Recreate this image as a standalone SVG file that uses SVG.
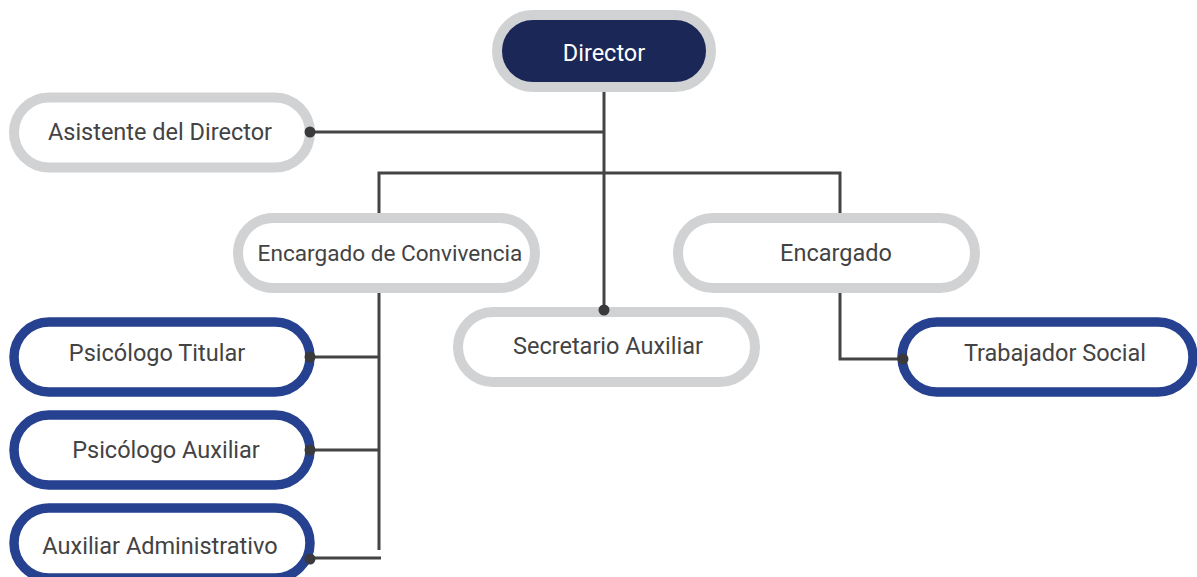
<svg xmlns="http://www.w3.org/2000/svg" width="1197" height="577" viewBox="0 0 1197 577">
<style>
.pg{fill:#ffffff;stroke:#d1d2d4;stroke-width:10}
.pb{fill:#ffffff;stroke:#26418f;stroke-width:9.5}
.pd{fill:#1b2857;stroke:#d1d2d4;stroke-width:10}
.t{font-family:Roboto,"Liberation Sans",sans-serif;font-size:23.5px;fill:#434343;text-anchor:middle;dominant-baseline:central}
.tw{fill:#ffffff}
.ln{fill:none;stroke:#444444;stroke-width:3}
.dot{fill:#3a3a3c}
</style>
<rect width="1197" height="577" fill="#ffffff"/>
<g id="connectors">
<path class="ln" d="M604 92 V310"/>
<path class="ln" d="M310 132 H604"/>
<path class="ln" d="M379 213 V173 H840 V213"/>
<path class="ln" d="M379 292 V550"/>
<path class="ln" d="M310 357 H379"/>
<path class="ln" d="M310 450 H379"/>
<path class="ln" d="M310 558 H381"/>
<path class="ln" d="M840 292 V359 H903"/>
</g>
<g id="director">
<rect class="pd" x="497" y="15" width="214" height="72" rx="36"/>
<text class="t tw" x="604" y="53">Director</text>
</g>
<g id="asistente">
<rect class="pg" x="14" y="97.5" width="296" height="70" rx="35"/>
<text class="t" x="160" y="132">Asistente del Director</text>
<circle class="dot" cx="310" cy="132" r="5.5"/>
</g>
<g id="encargado-convivencia">
<rect class="pg" x="238" y="218" width="297" height="70" rx="35"/>
<text class="t" x="390" y="253" style="font-size:22.6px">Encargado de Convivencia</text>
</g>
<g id="encargado">
<rect class="pg" x="678" y="218" width="297" height="70" rx="35"/>
<text class="t" x="836" y="253">Encargado</text>
</g>
<g id="secretario">
<rect class="pg" x="458" y="312" width="297" height="70" rx="35"/>
<text class="t" x="608" y="346">Secretario Auxiliar</text>
<circle class="dot" cx="604" cy="310" r="5.5"/>
</g>
<g id="psicologo-titular">
<rect class="pb" x="14" y="322" width="296" height="70" rx="35"/>
<text class="t" x="157" y="353">Psicólogo Titular</text>
<circle class="dot" cx="310" cy="357" r="5.5"/>
</g>
<g id="psicologo-auxiliar">
<rect class="pb" x="14" y="415" width="296" height="70" rx="35"/>
<text class="t" x="166" y="450">Psicólogo Auxiliar</text>
<circle class="dot" cx="310" cy="450" r="5.5"/>
</g>
<g id="auxiliar-administrativo">
<rect class="pb" x="14" y="508" width="296" height="70" rx="35"/>
<text class="t" x="160" y="546">Auxiliar Administrativo</text>
<circle class="dot" cx="310" cy="559" r="5.5"/>
</g>
<g id="trabajador-social">
<rect class="pb" x="902" y="322" width="291" height="70" rx="35"/>
<text class="t" x="1055" y="353">Trabajador Social</text>
<circle class="dot" cx="903" cy="359" r="5.5"/>
</g>
</svg>
